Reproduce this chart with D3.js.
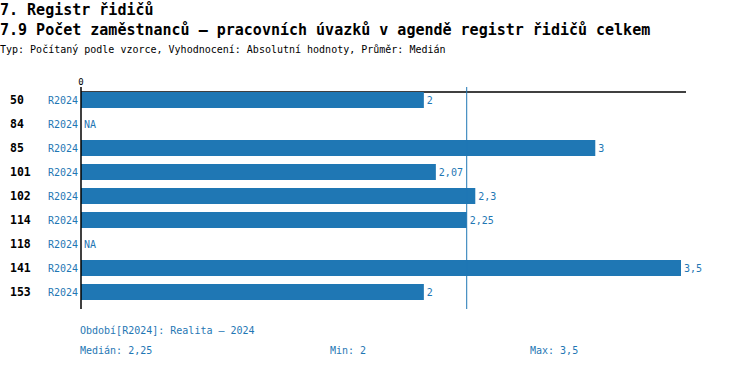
<!DOCTYPE html>
<html>
<head>
<meta charset="utf-8">
<script src="https://cdn.jsdelivr.net/npm/d3@7"></script>
<style>
  body { margin: 0; background: #fff; }
  text { font-family: "DejaVu Sans Mono", "Liberation Mono", monospace; }
</style>
</head>
<body>
<div id="chart"></div>
<script>
// data
const categories = ['50', '84', '85', '101', '102', '114', '118', '141', '153'];
const periods = ['R2024', 'R2024', 'R2024', 'R2024', 'R2024', 'R2024', 'R2024', 'R2024', 'R2024'];
const values = [2, null, 3, 2.07, 2.3, 2.25, null, 3.5, 2];
const valueLabels = ['2', 'NA', '3', '2,07', '2,3', '2,25', 'NA', '3,5', '2'];
const xTicks = [0];
const median = 2.25;

const W = 750, H = 368;
const blue = '#1f77b4';

const svg = d3.select('#chart').append('svg')
  .attr('width', W).attr('height', H);

// titles
svg.append('text').attr('x', 0).attr('y', 15)
  .attr('font-size', 15).attr('font-weight', 'bold')
  .text('7. Registr řidičů');
svg.append('text').attr('x', 0).attr('y', 35)
  .attr('font-size', 15).attr('font-weight', 'bold')
  .text('7.9 Počet zaměstnanců – pracovních úvazků v agendě registr řidičů celkem');
svg.append('text').attr('x', 0).attr('y', 53)
  .attr('font-size', 10)
  .text('Typ: Počítaný podle vzorce, Vyhodnocení: Absolutní hodnoty, Průměr: Medián');

// scales
const x = d3.scaleLinear().domain([0, 3.5]).range([81, 681]);
const y = d3.scaleBand().domain(d3.range(categories.length))
  .range([88, 304]).paddingInner(1 / 3).paddingOuter(1 / 6);

// top axis
const axisY = 92;
svg.append('line')
  .attr('x1', x(0)).attr('x2', 686)
  .attr('y1', axisY).attr('y2', axisY)
  .attr('stroke', '#000').attr('stroke-width', 1.5);
svg.append('g')
  .selectAll('text').data(xTicks).join('text')
  .attr('x', d => x(d)).attr('y', 85)
  .attr('text-anchor', 'middle').attr('font-size', 9)
  .text(d => d);

// bars
svg.append('g').selectAll('rect')
  .data(values.map((v, i) => ({ v, i })).filter(d => d.v != null))
  .join('rect')
  .attr('x', x(0))
  .attr('y', d => y(d.i))
  .attr('width', d => x(d.v) - x(0))
  .attr('height', y.bandwidth())
  .attr('fill', blue);

// value labels
svg.append('g').selectAll('text')
  .data(values.map((v, i) => ({ v, i })))
  .join('text')
  .attr('x', d => (d.v == null ? x(0) : x(d.v)) + 3)
  .attr('y', d => y(d.i) + y.bandwidth() / 2 + 4)
  .attr('font-size', 10).attr('fill', blue)
  .text(d => valueLabels[d.i]);

// category labels
svg.append('g').selectAll('text').data(categories).join('text')
  .attr('x', 10).attr('y', (d, i) => y(i) + y.bandwidth() / 2 + 4)
  .attr('font-size', 11.5).attr('font-weight', 'bold')
  .text(d => d);
svg.append('g').selectAll('text').data(periods).join('text')
  .attr('x', 78).attr('y', (d, i) => y(i) + y.bandwidth() / 2 + 4)
  .attr('text-anchor', 'end')
  .attr('font-size', 10).attr('fill', blue)
  .text(d => d);

// zero line and median line
svg.append('line')
  .attr('x1', x(0)).attr('x2', x(0))
  .attr('y1', 87).attr('y2', 309)
  .attr('stroke', '#000').attr('stroke-width', 1.5);
svg.append('line')
  .attr('x1', x(median)).attr('x2', x(median))
  .attr('y1', 87).attr('y2', 309)
  .attr('stroke', blue).attr('stroke-width', 1);

// footer
svg.append('text').attr('x', 80).attr('y', 334)
  .attr('font-size', 10).attr('fill', blue)
  .text('Období[R2024]: Realita – 2024');
svg.append('text').attr('x', 80).attr('y', 354)
  .attr('font-size', 10).attr('fill', blue)
  .text('Medián: 2,25');
svg.append('text').attr('x', 330).attr('y', 354)
  .attr('font-size', 10).attr('fill', blue)
  .text('Min: 2');
svg.append('text').attr('x', 530).attr('y', 354)
  .attr('font-size', 10).attr('fill', blue)
  .text('Max: 3,5');
</script>
</body>
</html>
